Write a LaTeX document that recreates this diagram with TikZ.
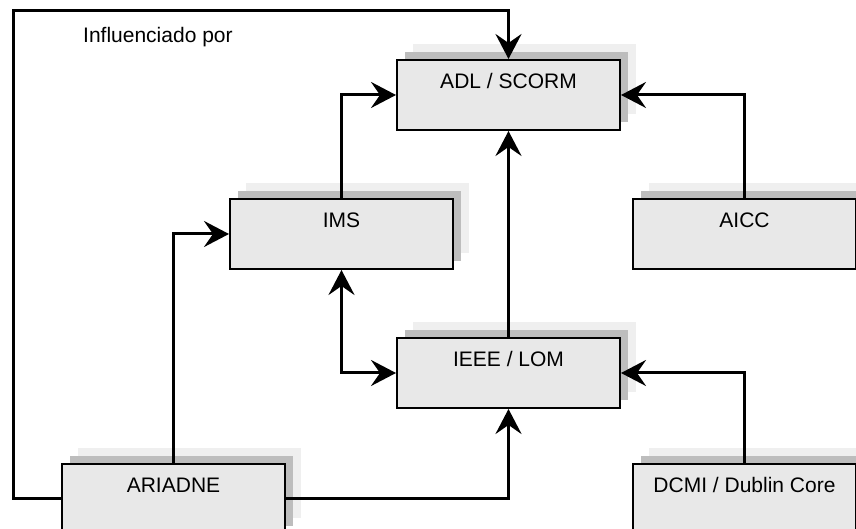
\documentclass[tikz,border=0pt]{standalone}
\usepackage{fontspec}
\setmainfont{Liberation Sans}
\usetikzlibrary{arrows.meta,shadows}
\definecolor{boxfill}{HTML}{E8E8E8}
\definecolor{shdark}{HTML}{BDBDBD}
\definecolor{shlight}{HTML}{EFEFEF}
\begin{document}
\begin{tikzpicture}[x=1pt,y=1pt,
  box/.style={draw=black, line width=2pt, fill=boxfill, anchor=north west,
    minimum width=223pt, minimum height=70pt, inner ysep=0pt,
    text height=15pt, text depth=27pt,
    font=\fontsize{21}{25}\selectfont,
    copy shadow={shadow xshift=16pt, shadow yshift=16pt, fill=shlight, draw=none},
    copy shadow={shadow xshift=8pt, shadow yshift=8pt, fill=shdark, draw=none}},
  conn/.style={line width=3pt, -{Stealth[length=25pt, width=26pt, inset=9pt]}},
  connboth/.style={line width=3pt, {Stealth[length=25pt, width=26pt, inset=9pt]}-{Stealth[length=25pt, width=26pt, inset=9pt]}}]
\useasboundingbox (0,0) rectangle (856,529);
\clip (0,0) rectangle (856,529);
% boxes (y = 529 - pixel row)
\node[box] (adl) at (396,470) {ADL / SCORM};
\node[box] (ims) at (229,331) {IMS};
\node[box] (aicc) at (632,331) {AICC};
\node[box] (ieee) at (396,192) {IEEE / LOM};
\node[box] (ariadne) at (61,66) {ARIADNE};
\node[box] (dcmi) at (632,66) {DCMI / Dublin Core};
% label
\node[anchor=base west, inner sep=0pt, font=\fontsize{21}{25}\selectfont] (infl) at (83,486) {Influenciado por};
% connectors
\coordinate (loopcorner) at (13.5,518);
\draw[conn] (ariadne.west) -| (loopcorner) -| (adl.north);
\draw[conn] (ims.north) |- (adl.west);
\draw[conn] (aicc.north) |- (adl.east);
\draw[conn] (ieee.north) -- (adl.south);
\draw[conn] (ariadne.north) |- (ims.west);
\draw[connboth] (ims.south) |- (ieee.west);
\draw[conn] (dcmi.north) |- (ieee.east);
\draw[conn] (ariadne.east) -| (ieee.south);
\end{tikzpicture}
\end{document}
